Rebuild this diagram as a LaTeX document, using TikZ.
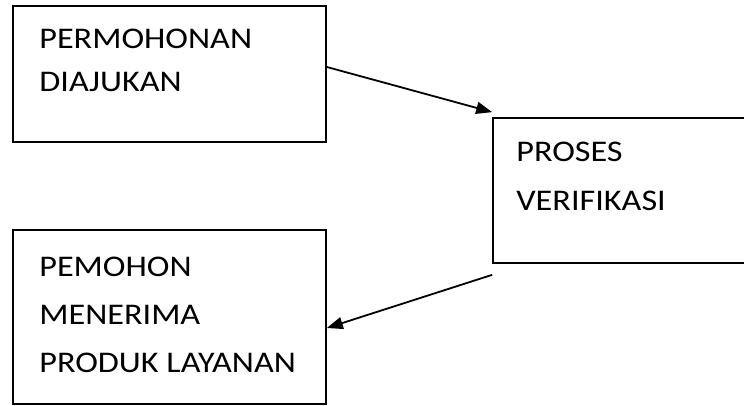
\documentclass[tikz,border=0pt]{standalone}
\usepackage{fontspec}
\setmainfont{Carlito}[FakeStretch=1.14]
\usetikzlibrary{positioning,arrows.meta}
\begin{document}
\begin{tikzpicture}[
	x=1pt, y=-1pt,
	font=\fontsize{30}{47}\selectfont,
	box/.style={draw, line width=1.7pt, inner sep=0pt},
	txt/.style={inner sep=0pt, align=left},
	arr/.style={-{Triangle[length=16pt,width=12pt]}, line width=1.8pt},
	]
\clip (0,0) rectangle (744,406);
% the three boxes
\node [box, minimum width=313pt, minimum height=136pt] (ajukan) at (169.5,74) {};
\node [box, minimum width=270pt, minimum height=145pt] (verif) at (628,190.5) {};
\node [box, minimum width=313pt, minimum height=174pt] (terima) at (169.5,317) {};
% their texts
\node [txt, font=\fontsize{30}{43}\selectfont, below right=24pt and 27pt of ajukan.north west] (ajukan-t) {PERMOHONAN\\DIAJUKAN};
\node [txt, font=\fontsize{30}{49}\selectfont, below right=25pt and 24pt of verif.north west] (verif-t) {PROSES\\VERIFIKASI};
\node [txt, font=\fontsize{30}{48}\selectfont, below right=28pt and 27pt of terima.north west] (terima-t) {PEMOHON\\MENERIMA\\PRODUK LAYANAN};
% arrows
\draw [arr] ([yshift=7pt]ajukan.east) -- ([yshift=5pt]verif.north west);
\draw [arr] ([yshift=-11pt]verif.south west) -- ([yshift=-11pt]terima.east);
\end{tikzpicture}
\end{document}
